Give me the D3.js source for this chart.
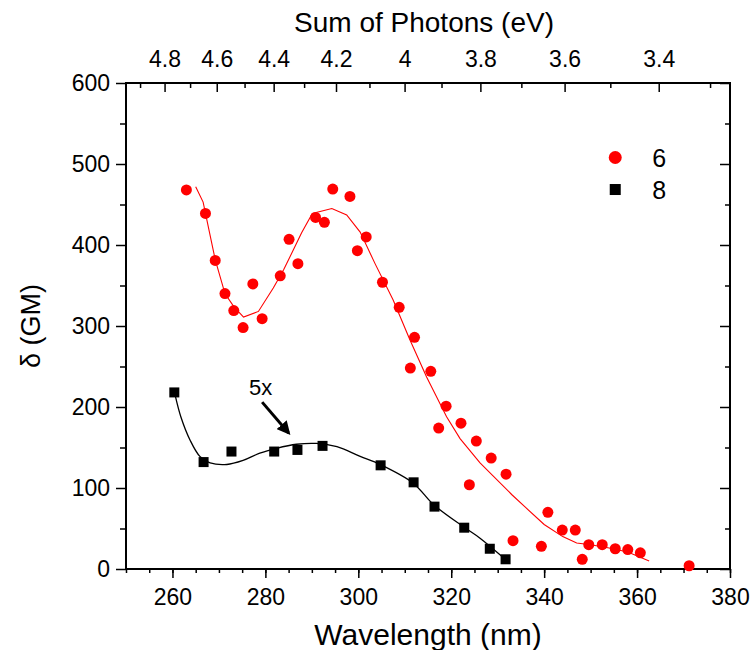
<!DOCTYPE html>
<html>
<head>
<meta charset="utf-8">
<script src="https://cdn.jsdelivr.net/npm/d3@7"></script>
<style>
  body { margin: 0; background: #fff; }
  svg text { font-family: "Liberation Sans", Arial, sans-serif; fill: #000; }
  .axis path, .axis line { stroke: #000; }
</style>
</head>
<body>
<div id="chart"></div>
<script>
//data: wavelength (nm) and delta (GM)
var red_wl = [263.0, 267.1, 269.2, 271.3, 273.2, 275.2, 277.3, 279.3, 283.2, 285.1, 287.0, 290.8, 292.7, 294.5, 298.2, 299.8,
    301.7, 305.2, 308.8, 312.1, 311.2, 315.6, 318.9, 317.3, 322.1, 325.4, 323.9, 328.6, 331.8, 333.3, 339.4, 340.8,
    343.9, 346.7, 348.2, 349.6, 352.5, 355.3, 358.0, 360.7, 371.2];
var red_val = [468, 439, 381, 340, 319, 298, 352, 309, 362, 407, 377, 434, 428, 469, 460, 393,
    410, 354, 323, 286, 248, 244, 201, 174, 180, 158, 104, 137, 117, 35, 28, 70,
    48, 48, 12, 30, 30, 25, 24, 20, 4];

var black_wl = [260.4, 266.7, 272.7, 281.9, 286.9, 292.3, 304.8, 311.9, 316.4, 322.8, 328.3, 331.7];
var black_val = [218, 132, 145, 145, 147, 152, 128, 107, 77, 51, 25, 12];

//fit curves
var red_fit_wl = [265.0, 266.6, 269.2, 271.3, 273.2, 275.3, 278.5, 281.7, 283.9, 287.8, 290.1, 294.3, 297.5, 300.4,
    303.6, 307.5, 311.1, 314.7, 319.0, 321.9, 326.2, 329.0, 333.0, 336.0, 340.0, 344.0, 347.0, 350.0, 354.0, 358.0, 362.6];
var red_fit_val = [472, 453, 382, 340, 324, 311, 318, 347, 369, 415, 439, 445, 437, 416,
    377, 332, 283, 237, 188, 161, 131, 115, 92, 76, 55, 40, 32, 30, 26, 21, 10];

var black_fit_wl = [260.6, 261.8, 263.8, 265.9, 268.1, 271.7, 275.2, 278.8, 282.4, 286.7, 291.0, 295.4, 300.4,
    304.7, 311.8, 316.3, 322.8, 326.2, 331.0];
var black_fit_val = [214, 188, 159, 139, 131, 129, 134, 143, 149, 154, 155, 151, 139,
    129, 106, 79, 51.5, 38, 15];

//tick values
var wl_ticks = [260, 280, 300, 320, 340, 360, 380];
var y_ticks = [0, 100, 200, 300, 400, 500, 600];
var ev_labels = [4.8, 4.6, 4.4, 4.2, 4.0, 3.8, 3.6, 3.4];
var ev_minor = [4.9, 4.7, 4.5, 4.3, 4.1, 3.9, 3.7, 3.5, 3.3];

var legend_names = ["6", "8"];

var hc = 1239.84;

var width = 754, height = 650;
var margin = {top: 83, right: 24, bottom: 81, left: 126};
var plot_w = width - margin.left - margin.right,
    plot_h = height - margin.top - margin.bottom;

var svg = d3.select("#chart").append("svg")
    .attr("width", width)
    .attr("height", height);

var g = svg.append("g")
    .attr("transform", "translate(" + margin.left + "," + margin.top + ")");

var x = d3.scaleLinear().domain([250, 380]).range([0, plot_w]);
var y = d3.scaleLinear().domain([0, 600]).range([plot_h, 0]);

//bottom axis, minor ticks every 5
g.append("g")
    .attr("class", "axis")
    .attr("transform", "translate(0," + plot_h + ")")
    .call(d3.axisBottom(x).tickValues(d3.range(250, 381, 5)).tickSize(4).tickFormat(""))
    .call(a => a.select(".domain").remove())
    .selectAll("line").attr("stroke-width", 1.5);

g.append("g")
    .attr("class", "axis")
    .attr("transform", "translate(0," + plot_h + ")")
    .call(d3.axisBottom(x).tickValues(wl_ticks).tickSize(9).tickPadding(11).tickFormat(d3.format("d")))
    .call(a => a.select(".domain").remove())
    .call(a => a.selectAll("line").attr("stroke-width", 1.5))
    .selectAll("text").style("font-size", "23px");

//left axis
g.append("g")
    .attr("class", "axis")
    .call(d3.axisLeft(y).tickValues(d3.range(50, 600, 100)).tickSize(6).tickFormat(""))
    .call(a => a.select(".domain").remove())
    .selectAll("line").attr("stroke-width", 1.5);

g.append("g")
    .attr("class", "axis")
    .call(d3.axisLeft(y).tickValues(y_ticks).tickSize(10).tickPadding(6).tickFormat(d3.format("d")))
    .call(a => a.select(".domain").remove())
    .call(a => a.selectAll("line").attr("stroke-width", 1.5))
    .selectAll("text").style("font-size", "23px");

//right axis, ticks inward
g.append("g")
    .attr("class", "axis")
    .attr("transform", "translate(" + plot_w + ",0)")
    .call(d3.axisRight(y).tickValues(d3.range(50, 600, 100)).tickSize(-5).tickFormat(""))
    .call(a => a.select(".domain").remove())
    .selectAll("line").attr("stroke-width", 1.5);

g.append("g")
    .attr("class", "axis")
    .attr("transform", "translate(" + plot_w + ",0)")
    .call(d3.axisRight(y).tickValues(y_ticks).tickSize(-10).tickFormat(""))
    .call(a => a.select(".domain").remove())
    .selectAll("line").attr("stroke-width", 1.5);

//top axis in photon energy, ticks inward
g.append("g")
    .attr("class", "axis")
    .call(d3.axisTop(x).tickValues(ev_minor.map(e => hc / e)).tickSize(-5).tickFormat(""))
    .call(a => a.select(".domain").remove())
    .selectAll("line").attr("stroke-width", 1.5);

g.append("g")
    .attr("class", "axis")
    .call(d3.axisTop(x).tickValues(ev_labels.map(e => hc / e)).tickSize(-9).tickPadding(16)
        .tickFormat(d => d3.format("~g")(Math.round(hc / d * 10) / 10)))
    .call(a => a.select(".domain").remove())
    .call(a => a.selectAll("line").attr("stroke-width", 1.5))
    .selectAll("text").style("font-size", "23px");

//frame
g.append("rect")
    .attr("width", plot_w)
    .attr("height", plot_h)
    .attr("fill", "none")
    .attr("stroke", "#000")
    .attr("stroke-width", 2);

//fit lines
var line = d3.line()
    .x(d => x(d[0]))
    .y(d => y(d[1]));

g.append("path")
    .datum(red_fit_wl.map((d, i) => [d, red_fit_val[i]]))
    .attr("fill", "none")
    .attr("stroke", "#ff0000")
    .attr("stroke-width", 1.1)
    .attr("d", line);

g.append("path")
    .datum(black_fit_wl.map((d, i) => [d, black_fit_val[i]]))
    .attr("fill", "none")
    .attr("stroke", "#000")
    .attr("stroke-width", 1.3)
    .attr("d", line.curve(d3.curveCatmullRom));

//points
g.selectAll(".red-pt")
    .data(red_wl.map((d, i) => [d, red_val[i]]))
    .enter().append("circle")
    .attr("class", "red-pt")
    .attr("cx", d => x(d[0]))
    .attr("cy", d => y(d[1]))
    .attr("r", 5.5)
    .attr("fill", "#ff0000");

var sq = 10;
g.selectAll(".black-pt")
    .data(black_wl.map((d, i) => [d, black_val[i]]))
    .enter().append("rect")
    .attr("class", "black-pt")
    .attr("x", d => x(d[0]) - sq / 2)
    .attr("y", d => y(d[1]) - sq / 2)
    .attr("width", sq)
    .attr("height", sq)
    .attr("fill", "#000");

//5x annotation with arrow
svg.append("defs").append("marker")
    .attr("id", "head")
    .attr("viewBox", "0 0 10 10")
    .attr("refX", 8).attr("refY", 5)
    .attr("markerWidth", 4.5).attr("markerHeight", 4.5)
    .attr("orient", "auto")
    .append("path")
    .attr("d", "M0,0 L10,5 L0,10 z")
    .attr("fill", "#000");

g.append("text")
    .attr("x", x(279.0))
    .attr("y", y(215))
    .attr("text-anchor", "middle")
    .style("font-size", "22px")
    .text("5x");

g.append("line")
    .attr("x1", x(279.3)).attr("y1", y(206))
    .attr("x2", x(285.0)).attr("y2", y(168))
    .attr("stroke", "#000")
    .attr("stroke-width", 3)
    .attr("marker-end", "url(#head)");

//legend
var leg = g.append("g").attr("transform", "translate(" + (x(355.3)) + "," + (y(508)) + ")");
leg.append("circle").attr("cx", 0).attr("cy", 0).attr("r", 6.5).attr("fill", "#ff0000");
leg.append("rect").attr("x", -5.5).attr("y", 26.5).attr("width", 11).attr("height", 11).attr("fill", "#000");
leg.selectAll(".leg-text")
    .data(legend_names)
    .enter().append("text")
    .attr("x", 37)
    .attr("y", (d, i) => i * 32 + 9)
    .style("font-size", "25px")
    .text(d => d);

//axis titles
svg.append("text")
    .attr("x", margin.left + plot_w / 2 - 4)
    .attr("y", 32)
    .attr("text-anchor", "middle")
    .style("font-size", "28px")
    .text("Sum of Photons (eV)");

svg.append("text")
    .attr("x", margin.left + plot_w / 2)
    .attr("y", 645)
    .attr("text-anchor", "middle")
    .style("font-size", "30px")
    .text("Wavelength (nm)");

svg.append("text")
    .attr("transform", "translate(40," + (margin.top + plot_h / 2) + ") rotate(-90)")
    .attr("text-anchor", "middle")
    .style("font-size", "27px")
    .text("δ (GM)");
</script>
</body>
</html>
